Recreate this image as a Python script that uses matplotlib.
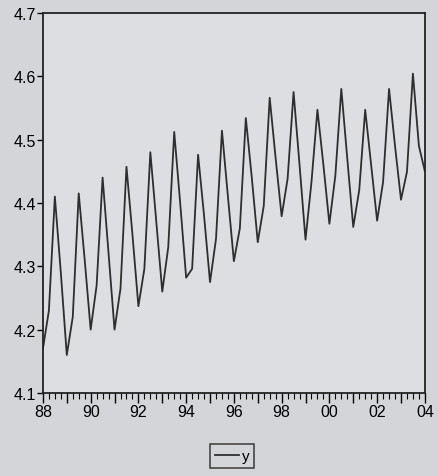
import numpy as np
import matplotlib
matplotlib.use("Agg")
import matplotlib.pyplot as plt
from matplotlib.ticker import MultipleLocator, FuncFormatter

plt.rcParams["font.family"] = ["Liberation Sans", "DejaVu Sans"]

# quarterly series, 1988Q1 .. 2004Q1
start_year = 1988
y = [4.17, 4.23, 4.41, 4.29,
     4.16, 4.22, 4.415, 4.31,
     4.20, 4.27, 4.44, 4.32,
     4.20, 4.265, 4.457, 4.35,
     4.237, 4.296, 4.48, 4.37,
     4.26, 4.33, 4.512, 4.40,
     4.282, 4.296, 4.476, 4.38,
     4.275, 4.343, 4.514, 4.41,
     4.308, 4.36, 4.534, 4.44,
     4.338, 4.395, 4.566, 4.47,
     4.379, 4.438, 4.575, 4.46,
     4.342, 4.433, 4.547, 4.46,
     4.367, 4.443, 4.58, 4.47,
     4.362, 4.42, 4.547, 4.46,
     4.372, 4.433, 4.58, 4.49,
     4.405, 4.449, 4.604, 4.49,
     4.45]
yticks = [4.1, 4.2, 4.3, 4.4, 4.5, 4.6, 4.7]
series_name = "y"

t = start_year + np.arange(len(y)) / 4.0


def year_label(v, p):
    yr = int(round(v))
    if yr % 2:
        return ""
    return "%02d" % (yr % 100)


fig = plt.figure(figsize=(4.38, 4.77), dpi=100, facecolor="#d3d5d9")
ax = fig.add_axes([0.098, 0.174, 0.872, 0.797], facecolor="#dcdee2")

ax.plot(t, y, color="#2e2e2e", lw=1.3, label=series_name)

ax.set_xlim(1988, 2004)
ax.set_ylim(4.1, 4.7)
ax.set_yticks(yticks)
ax.yaxis.set_major_formatter(FuncFormatter(lambda v, p: "%.1f" % v))
ax.xaxis.set_major_locator(MultipleLocator(1))
ax.xaxis.set_minor_locator(MultipleLocator(0.25))
ax.xaxis.set_major_formatter(FuncFormatter(year_label))

ax.tick_params(axis="y", direction="out", length=4, width=1, labelsize=11.5, pad=1)
ax.tick_params(axis="x", which="major", direction="out", length=7, width=1, labelsize=11.5, pad=1)
ax.tick_params(axis="x", which="minor", direction="out", length=4, width=0.8)
for s in ax.spines.values():
    s.set_linewidth(1.3)
    s.set_color("#222222")

leg = fig.legend(loc="center", bbox_to_anchor=(0.53, 0.042), frameon=True,
                 fancybox=False, fontsize=11, handlelength=1.6, handletextpad=0.2,
                 borderpad=0.3, borderaxespad=0)
leg.get_frame().set_edgecolor("#222222")
leg.get_frame().set_facecolor("#d3d5d9")
leg.get_frame().set_linewidth(1.2)

fig.savefig("out.png", dpi=100, facecolor=fig.get_facecolor())
